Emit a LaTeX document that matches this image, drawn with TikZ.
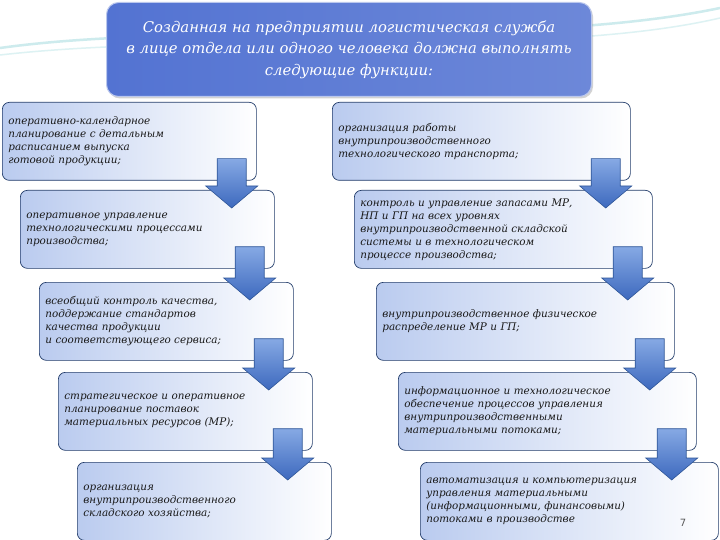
\documentclass[tikz,border=0pt]{standalone}
\usepackage{fontspec}
\setmainfont{DejaVu Serif}
\newfontfamily\numfont{DejaVu Sans}
\usetikzlibrary{calc,shadows}
\definecolor{navy}{HTML}{223C6A}
\definecolor{boxl}{HTML}{BACBEF}
\definecolor{boxm}{HTML}{DFE7F8}
\definecolor{arrtop}{HTML}{86A9E4}
\definecolor{arrbot}{HTML}{3D69BE}
\definecolor{arrline}{HTML}{2E5597}
\definecolor{titl}{HTML}{5373D2}
\definecolor{titm}{HTML}{2040AE}
\definecolor{swoosh}{HTML}{8FD3D8}
\tikzset{
  fbox/.style={draw=navy, line width=0.7pt, rounded corners=7pt,
    left color=boxl, middle color=boxm, right color=white,
    anchor=north west, minimum height=78pt, inner xsep=6pt, inner ysep=0pt,
    align=left, text=black!90,
    font=\itshape\fontsize{10.4}{13}\selectfont},
  lbox/.style={fbox, minimum width=254pt, text width=242pt},
  rbox/.style={fbox, minimum width=298pt, text width=286pt},
  barrowsty/.style={draw=arrline, line width=0.6pt, top color=arrtop, bottom color=arrbot},
}
\newcommand\barrow[2]{%
  \path ($(#1.south east)+(-25,-22)$) coordinate (t);
  \path (t |- #2.north) ++(0,18) coordinate (p);
  \draw[barrowsty] ($(t)+(-14.5,0)$) -- ($(t)+(14.5,0)$) -- ($(p)+(14.5,-22)$)
     -- ($(p)+(26,-22)$) -- (p) -- ($(p)+(-26,-22)$) -- ($(p)+(-14.5,-22)$) -- cycle;
}
\begin{document}
\begin{tikzpicture}[x=1pt,y=-1pt]
\useasboundingbox (0,0) rectangle (720,540);
\fill[white] (0,0) rectangle (720,540);
% background swooshes
\draw[swoosh!45, line width=2.5pt] (0,48) .. controls (200,20) and (520,50) .. (720,8);
\draw[swoosh!30, line width=1.5pt] (0,55) .. controls (220,30) and (540,60) .. (720,18);
% title
\node[draw=white!60!titl, line width=1pt, rounded corners=12pt,
      left color=titl, middle color=titm, right color=titl!85!white,
      drop shadow={shadow xshift=1.5pt, shadow yshift=-2pt, opacity=0.35},
      minimum width=485pt, minimum height=94pt, anchor=north west,
      align=center, text=white,
      font=\itshape\fontsize{14.8}{21.5}\selectfont] (T) at (106,2)
  {Созданная на предприятии логистическая служба\\
   в лице отдела или одного человека должна выполнять\\
   следующие функции:};
% left column
\node[lbox] (L1) at (2,102) {оперативно-календарное\\планирование с детальным\\расписанием выпуска\\готовой продукции;};
\node[lbox] (L2) at (20,190) {оперативное управление\\технологическими процессами\\производства;};
\node[lbox] (L3) at (39,282) {всеобщий контроль качества,\\поддержание стандартов\\качества продукции\\и соответствующего сервиса;};
\node[lbox] (L4) at (58,372) {стратегическое и оперативное\\планирование поставок\\материальных ресурсов (МР);};
\node[lbox] (L5) at (77,462) {организация\\внутрипроизводственного\\складского хозяйства;};
% right column
\node[rbox] (R1) at (332,102) {организация работы\\внутрипроизводственного\\технологического транспорта;};
\node[rbox] (R2) at (354,190) {контроль и управление запасами МР,\\НП и ГП на всех уровнях\\внутрипроизводственной складской\\системы и в технологическом\\процессе производства;};
\node[rbox] (R3) at (376,282) {внутрипроизводственное физическое\\распределение МР и ГП;};
\node[rbox] (R4) at (398,372) {информационное и технологическое\\обеспечение процессов управления\\внутрипроизводственными\\материальными потоками;};
\node[rbox] (R5) at (420,462) {автоматизация и компьютеризация\\управления материальными\\(информационными, финансовыми)\\потоками в производстве};
% arrows
\barrow{L1}{L2}
\barrow{L2}{L3}
\barrow{L3}{L4}
\barrow{L4}{L5}
\barrow{R1}{R2}
\barrow{R2}{R3}
\barrow{R3}{R4}
\barrow{R4}{R5}
% page number
\node[text=black!65, font=\numfont\fontsize{10}{12}\selectfont] (pg) at (683,523) {7};
\end{tikzpicture}
\end{document}
